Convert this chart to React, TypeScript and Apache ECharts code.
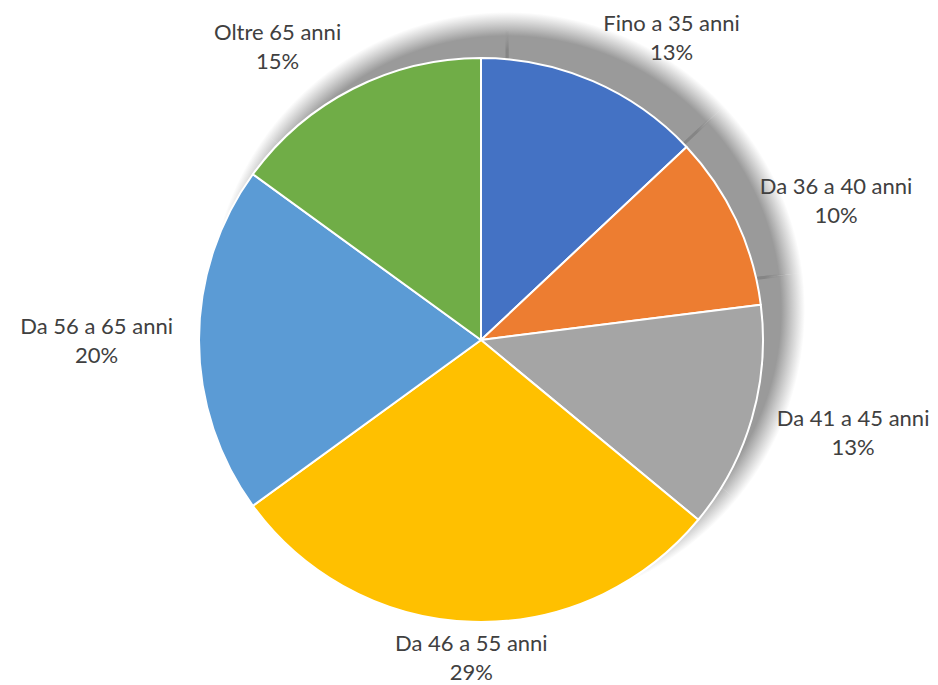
import React, { useEffect, useRef } from "react";
import * as echarts from "echarts";

const categories = [
  "Fino a 35 anni",
  "Da 36 a 40 anni",
  "Da 41 a 45 anni",
  "Da 46 a 55 anni",
  "Da 56 a 65 anni",
  "Oltre 65 anni",
];
const shares = [13, 10, 13, 29, 20, 15];
const colors = ["#4472C4", "#ED7D31", "#A5A5A5", "#FFC000", "#5B9BD5", "#70AD47"];

const W = 938;
const H = 685;
const CX = 481;
const CY = 340;
const R = 282;
const SX = CX + 26;
const SY = CY - 30;
const LABEL_GAP = 26;

export default function App() {
  const ref = useRef<HTMLDivElement>(null);
  useEffect(() => {
    if (!ref.current) return;
    const chart = echarts.init(ref.current, undefined, { renderer: "svg" });
    const total = shares.reduce((a, b) => a + b, 0);
    const data = categories.map((name, i) => ({
      name,
      value: shares[i],
      itemStyle: { color: colors[i] },
    }));
    const SR = R + 16;
    const fill = new echarts.graphic.RadialGradient(
      SX,
      SY,
      SR,
      [
        { offset: 0, color: "#9a9a9a" },
        { offset: (R - 8) / SR, color: "#9a9a9a" },
        { offset: 1, color: "rgba(160,160,160,0)" },
      ],
      true
    );
    const stroke = new echarts.graphic.RadialGradient(
      SX,
      SY,
      SR,
      [
        { offset: 0, color: "#808080" },
        { offset: (R - 22) / SR, color: "#858585" },
        { offset: (R - 2) / SR, color: "rgba(156,156,156,0)" },
        { offset: 1, color: "rgba(156,156,156,0)" },
      ],
      true
    );
    chart.setOption({
      animation: false,
      backgroundColor: "#ffffff",
      series: [
        {
          type: "pie",
          silent: true,
          z: 1,
          center: [SX, SY],
          radius: SR,
          startAngle: 90,
          clockwise: true,
          label: { show: false },
          labelLine: { show: false },
          data: shares.map((v) => ({ value: v })),
          itemStyle: {
            color: fill,
            borderColor: stroke,
            borderWidth: 3,
          },
        },
        {
          type: "pie",
          z: 2,
          center: [CX, CY],
          radius: R,
          startAngle: 90,
          clockwise: true,
          avoidLabelOverlap: false,
          itemStyle: { borderColor: "#ffffff", borderWidth: 2 },
          label: {
            show: true,
            position: "outside",
            formatter: "{b}\n{c}%",
            fontFamily: "Lato",
            fontSize: 22,
            lineHeight: 29,
            color: "#404040",
            align: "center",
          },
          labelLine: { show: false, length: 10, length2: 0 },
          labelLayout: (p: any) => {
            const i = p.dataIndex;
            let cum = 0;
            for (let k = 0; k < i; k++) cum += shares[k];
            const a = ((cum + shares[i] / 2) / total) * Math.PI * 2;
            const s = Math.sin(a);
            const c = Math.cos(a);
            const w = p.labelRect.width;
            const h = p.labelRect.height;
            const d = R + LABEL_GAP;
            const px = CX + d * s;
            const py = CY - d * c;
            const fx =
              Math.sign(s) * Math.max(0, Math.min(1, (Math.abs(s) - 0.1) / 0.28));
            let x = px + (fx * w) / 2;
            let y = py - (c * h * 0.75) / 2;
            y = Math.max(6 + h / 2, Math.min(H + 1 - h / 2, y));
            x = Math.max(w / 2, Math.min(W - w / 2, x));
            return { x, y, align: "center", verticalAlign: "middle" };
          },
          data,
        },
      ],
    });
    return () => chart.dispose();
  }, []);
  return (
    <div
      ref={ref}
      style={{ position: "fixed", left: 0, top: 0, width: W, height: H }}
    />
  );
}
